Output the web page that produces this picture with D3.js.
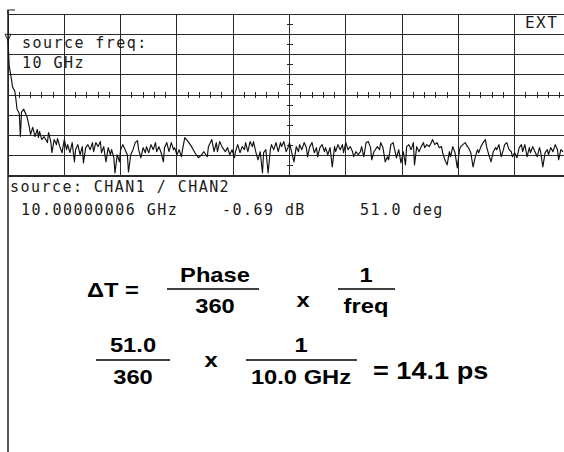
<!DOCTYPE html>
<html>
<head>
<meta charset="utf-8">
<script src="https://cdn.jsdelivr.net/npm/d3@7"></script>
<style>
  html, body { margin: 0; padding: 0; background: #fff; }
  svg { display: block; }
  .scr { font-family: "DejaVu Sans Mono", monospace; font-size: 15px; fill: #1a1a1a; letter-spacing: 1.45px; }
  .eq { font-family: "Liberation Sans", Arial, sans-serif; font-weight: bold; font-size: 21px; fill: #000; }
</style>
</head>
<body>
<div id="chart"></div>
<script>
// Screen of a network analyser: trace of [display point, level in 1/10 division]
// 500 display points span the 10 horizontal divisions, 80 level units the 8 vertical ones.
const traceSamples = [
  [0, 68], [1, 54.5], [3, 48], [4, 44], [6, 42], [7, 38], [8, 33], [10, 31], [11, 19.5], [12, 31.5],
  [14, 33], [17, 29], [19, 24], [20, 20.5], [22, 24], [24, 19.5], [26, 23], [27, 19], [28, 22], [30, 18],
  [32, 19.5], [35, 16.5], [36, 21.5], [38, 17], [39, 11.5], [41, 18], [43, 15.5], [44, 18.5], [46, 14.5], [48, 11.5],
  [50, 18], [52, 13], [53, 15.5], [55, 11.5], [57, 16.5], [59, 7], [60, 13], [62, 15.5], [64, 10.5], [66, 14.5],
  [67, 6.5], [69, 14], [71, 15.5], [73, 13], [75, 16.5], [76, 12], [78, 16.5], [80, 14.5], [82, 17], [83, 11.5],
  [85, 14.5], [87, 7], [89, 14], [91, 10.5], [92, 13], [94, 9], [95, 1.5], [97, 10.5], [99, 7], [100, 13],
  [102, 15.5], [104, 13], [106, 10.5], [107, 2], [109, 10.5], [111, 13], [113, 16.5], [115, 17.5], [116, 13], [118, 9],
  [120, 14], [122, 11.5], [123, 14.5], [125, 11.5], [127, 15.5], [129, 13], [131, 16.5], [132, 12], [134, 14.5], [136, 11.5],
  [138, 7], [139, 14], [141, 16.5], [143, 12], [145, 16.5], [147, 13], [148, 14], [150, 10.5], [152, 13], [154, 9.5],
  [155, 13], [157, 19], [160, 17], [163, 14.5], [166, 11.5], [169, 9], [172, 10.5], [174, 12], [177, 9.5], [178, 14.5],
  [181, 18], [183, 12], [185, 16.5], [186, 12], [188, 17], [190, 14.5], [193, 12], [195, 14], [197, 10.5], [199, 13],
  [201, 9], [202, 12], [204, 15.5], [206, 11.5], [208, 14.5], [210, 13], [211, 16.5], [213, 12], [215, 17], [217, 14.5],
  [218, 17], [220, 12], [222, 8], [224, 12], [226, 1.5], [227, 11.5], [229, 13], [231, 1.5], [233, 13], [234, 15.5],
  [236, 13], [238, 16.5], [240, 12], [242, 16.5], [243, 14.5], [245, 17], [247, 12], [249, 14.5], [250, 16.5], [252, 11.5],
  [254, 7], [256, 14.5], [258, 12], [259, 15.5], [261, 13], [263, 16.5], [265, 14], [266, 9.5], [268, 14.5], [270, 16.5],
  [272, 11.5], [274, 14], [275, 9.5], [277, 14], [279, 15.5], [281, 12], [282, 14], [284, 10.5], [286, 14], [288, 4.5],
  [290, 14.5], [291, 12], [293, 15.5], [295, 13], [297, 15.5], [298, 11.5], [300, 16.5], [302, 13], [304, 14.5], [306, 12],
  [307, 9.5], [309, 12], [311, 10.5], [313, 12], [314, 14.5], [316, 9.5], [318, 16.5], [320, 17], [322, 14], [323, 8],
  [325, 12], [328, 14.5], [330, 13], [331, 16.5], [333, 14], [335, 7], [337, 9.5], [338, 8], [340, 15.5], [342, 16.5],
  [344, 11.5], [345, 9], [347, 13], [349, 6.5], [351, 12], [353, 5.5], [354, 14.5], [356, 15.5], [358, 13], [360, 16.5],
  [361, 5.5], [363, 14.5], [365, 12], [367, 14.5], [369, 16.5], [370, 14], [372, 15.5], [374, 14.5], [376, 16.5], [377, 18],
  [379, 15.5], [381, 16.5], [383, 14], [385, 14.5], [386, 11.5], [388, 8], [390, 5.5], [392, 12], [393, 9.5], [395, 14.5],
  [397, 11.5], [399, 4], [401, 13], [402, 14.5], [404, 15.5], [406, 16.5], [408, 14.5], [409, 14], [411, 11.5], [413, 4.5],
  [415, 9.5], [417, 13], [418, 11.5], [420, 14.5], [422, 16.5], [424, 18], [425, 14.5], [427, 10.5], [429, 7], [431, 12],
  [433, 14], [434, 13], [436, 15.5], [438, 9.5], [440, 13], [441, 15.5], [443, 16.5], [445, 13], [447, 12], [448, 9.5],
  [450, 11.5], [452, 9], [454, 14], [456, 15.5], [457, 12], [459, 15.5], [461, 9.5], [463, 14], [464, 11.5], [466, 14.5],
  [468, 12], [470, 9.5], [472, 14], [473, 12], [475, 4.5], [477, 11.5], [479, 13], [480, 10.5], [482, 14], [484, 12],
  [486, 15.5], [488, 13], [489, 8], [491, 13], [493, 12]
];

const gridCols = [0, 50, 100, 150, 200, 250, 300, 350, 400, 450, 500];
const gridRows = [0, 10, 20, 30, 40, 50, 60, 70, 80];
const centerColTicks = [0, 10, 20, 30, 40, 50, 60, 70, 80, 90, 100, 110, 120, 130, 140, 150, 160, 170, 180, 190,
  200, 210, 220, 230, 240, 250, 260, 270, 280, 290, 300, 310, 320, 330, 340, 350, 360, 370, 380, 390,
  400, 410, 420, 430, 440, 450, 460, 470, 480, 490, 500];
const centerRowTicks = [5, 10, 15, 20, 25, 30, 35, 40, 45, 50, 55, 60, 65, 70, 75];
const refMarkLevel = 70;

const screenLabels = ["source freq:", "10 GHz", "EXT", "source: CHAN1 / CHAN2"];
const markerReadout = ["10.00000006 GHz", "-0.69 dB", "51.0 deg"];

const W = 564, H = 452;
const svg = d3.select("#chart").append("svg").attr("width", W).attr("height", H);

const x = d3.scaleLinear([0, 500], [8, 571]);
const y = d3.scaleLinear([0, 80], [176, 14]);

// graticule
const grid = svg.append("g").attr("stroke", "#2a2a2a").attr("stroke-width", 1).attr("shape-rendering", "crispEdges");
grid.selectAll("line.v").data(gridCols).join("line").attr("class", "v")
  .attr("x1", (d) => x(d)).attr("x2", (d) => x(d)).attr("y1", y(80)).attr("y2", y(0));
grid.selectAll("line.h").data(gridRows).join("line").attr("class", "h")
  .attr("x1", x(0)).attr("x2", W).attr("y1", (d) => y(d)).attr("y2", (d) => y(d))
  .attr("stroke-width", (d) => (d === 0 ? 2 : 1));
grid.selectAll("line.tc").data(centerColTicks).join("line").attr("class", "tc")
  .attr("x1", (d) => x(d)).attr("x2", (d) => x(d)).attr("y1", y(40) - 3).attr("y2", y(40) + 3);
grid.selectAll("line.tr").data(centerRowTicks).join("line").attr("class", "tr")
  .attr("x1", x(250) - 3).attr("x2", x(250) + 3).attr("y1", (d) => y(d)).attr("y2", (d) => y(d));

// screen frame: left edge runs down the whole page, corner mark at top
svg.append("line").attr("x1", x(0)).attr("x2", x(0)).attr("y1", y(80) - 4).attr("y2", H)
  .attr("stroke", "#222").attr("stroke-width", 1.5);
svg.append("path").attr("d", `M${x(0)},${y(80)}V${y(80) - 4}H${x(0) + 7}`)
  .attr("fill", "none").attr("stroke", "#222").attr("stroke-width", 1.2);

// reference level marker
const my = y(refMarkLevel);
svg.append("path").attr("d", `M${x(0) - 3},${my}H${x(0) + 3}L${x(0)},${my + 6}Z`)
  .attr("fill", "none").attr("stroke", "#222").attr("stroke-width", 1);

// measured trace
const line = d3.line().x((d) => x(d[0])).y((d) => y(d[1]));
svg.append("path").datum(traceSamples).attr("d", line)
  .attr("fill", "none").attr("stroke", "#111").attr("stroke-width", 1.15).attr("stroke-linejoin", "round");

// screen annotations
const scr = svg.append("g").attr("class", "scr");
scr.append("text").attr("x", 22).attr("y", 48).text(screenLabels[0]);
scr.append("text").attr("x", 22).attr("y", 68).text(screenLabels[1]);
scr.append("text").attr("x", 525).attr("y", 28).style("font-size", "16px").text(screenLabels[2]);
scr.append("text").attr("x", 10).attr("y", 192).text(screenLabels[3]);
scr.append("text").attr("x", 21).attr("y", 215).text(markerReadout[0]);
scr.append("text").attr("x", 222).attr("y", 215).text(markerReadout[1]);
scr.append("text").attr("x", 360).attr("y", 215).text(markerReadout[2]);

// delay formula (the scanned type is a little wider than Arial, hence the x stretch)
const SX = 1.13;
const eq = svg.append("g").attr("class", "eq");
const word = (tx, ty, s, anchor, size) => {
  const t = eq.append("text").attr("transform", `translate(${tx},${ty}) scale(${SX},1)`)
    .attr("text-anchor", anchor || "start").text(s);
  if (size) t.style("font-size", `${size}px`);
  return t;
};
const frac = (cx, num, den, x1, x2, ly, nb, db) => {
  word(cx, nb, num, "middle");
  word(cx, db, den, "middle");
  eq.append("line").attr("x1", x1).attr("x2", x2).attr("y1", ly).attr("y2", ly)
    .attr("stroke", "#000").attr("stroke-width", 1.3);
};
word(87, 297, "\u0394T =");
frac(215, "Phase", "360", 167, 259, 289, 282, 313);
word(303, 307, "x", "middle");
frac(366, "1", "freq", 338, 395, 289, 282, 313);

frac(133, "51.0", "360", 96, 170, 360, 352, 384);
word(211, 367, "x", "middle");
frac(301, "1", "10.0 GHz", 246, 357, 360, 352, 384);
word(373, 379, "= 14.1 ps", "start", 24);
</script>
</body>
</html>
